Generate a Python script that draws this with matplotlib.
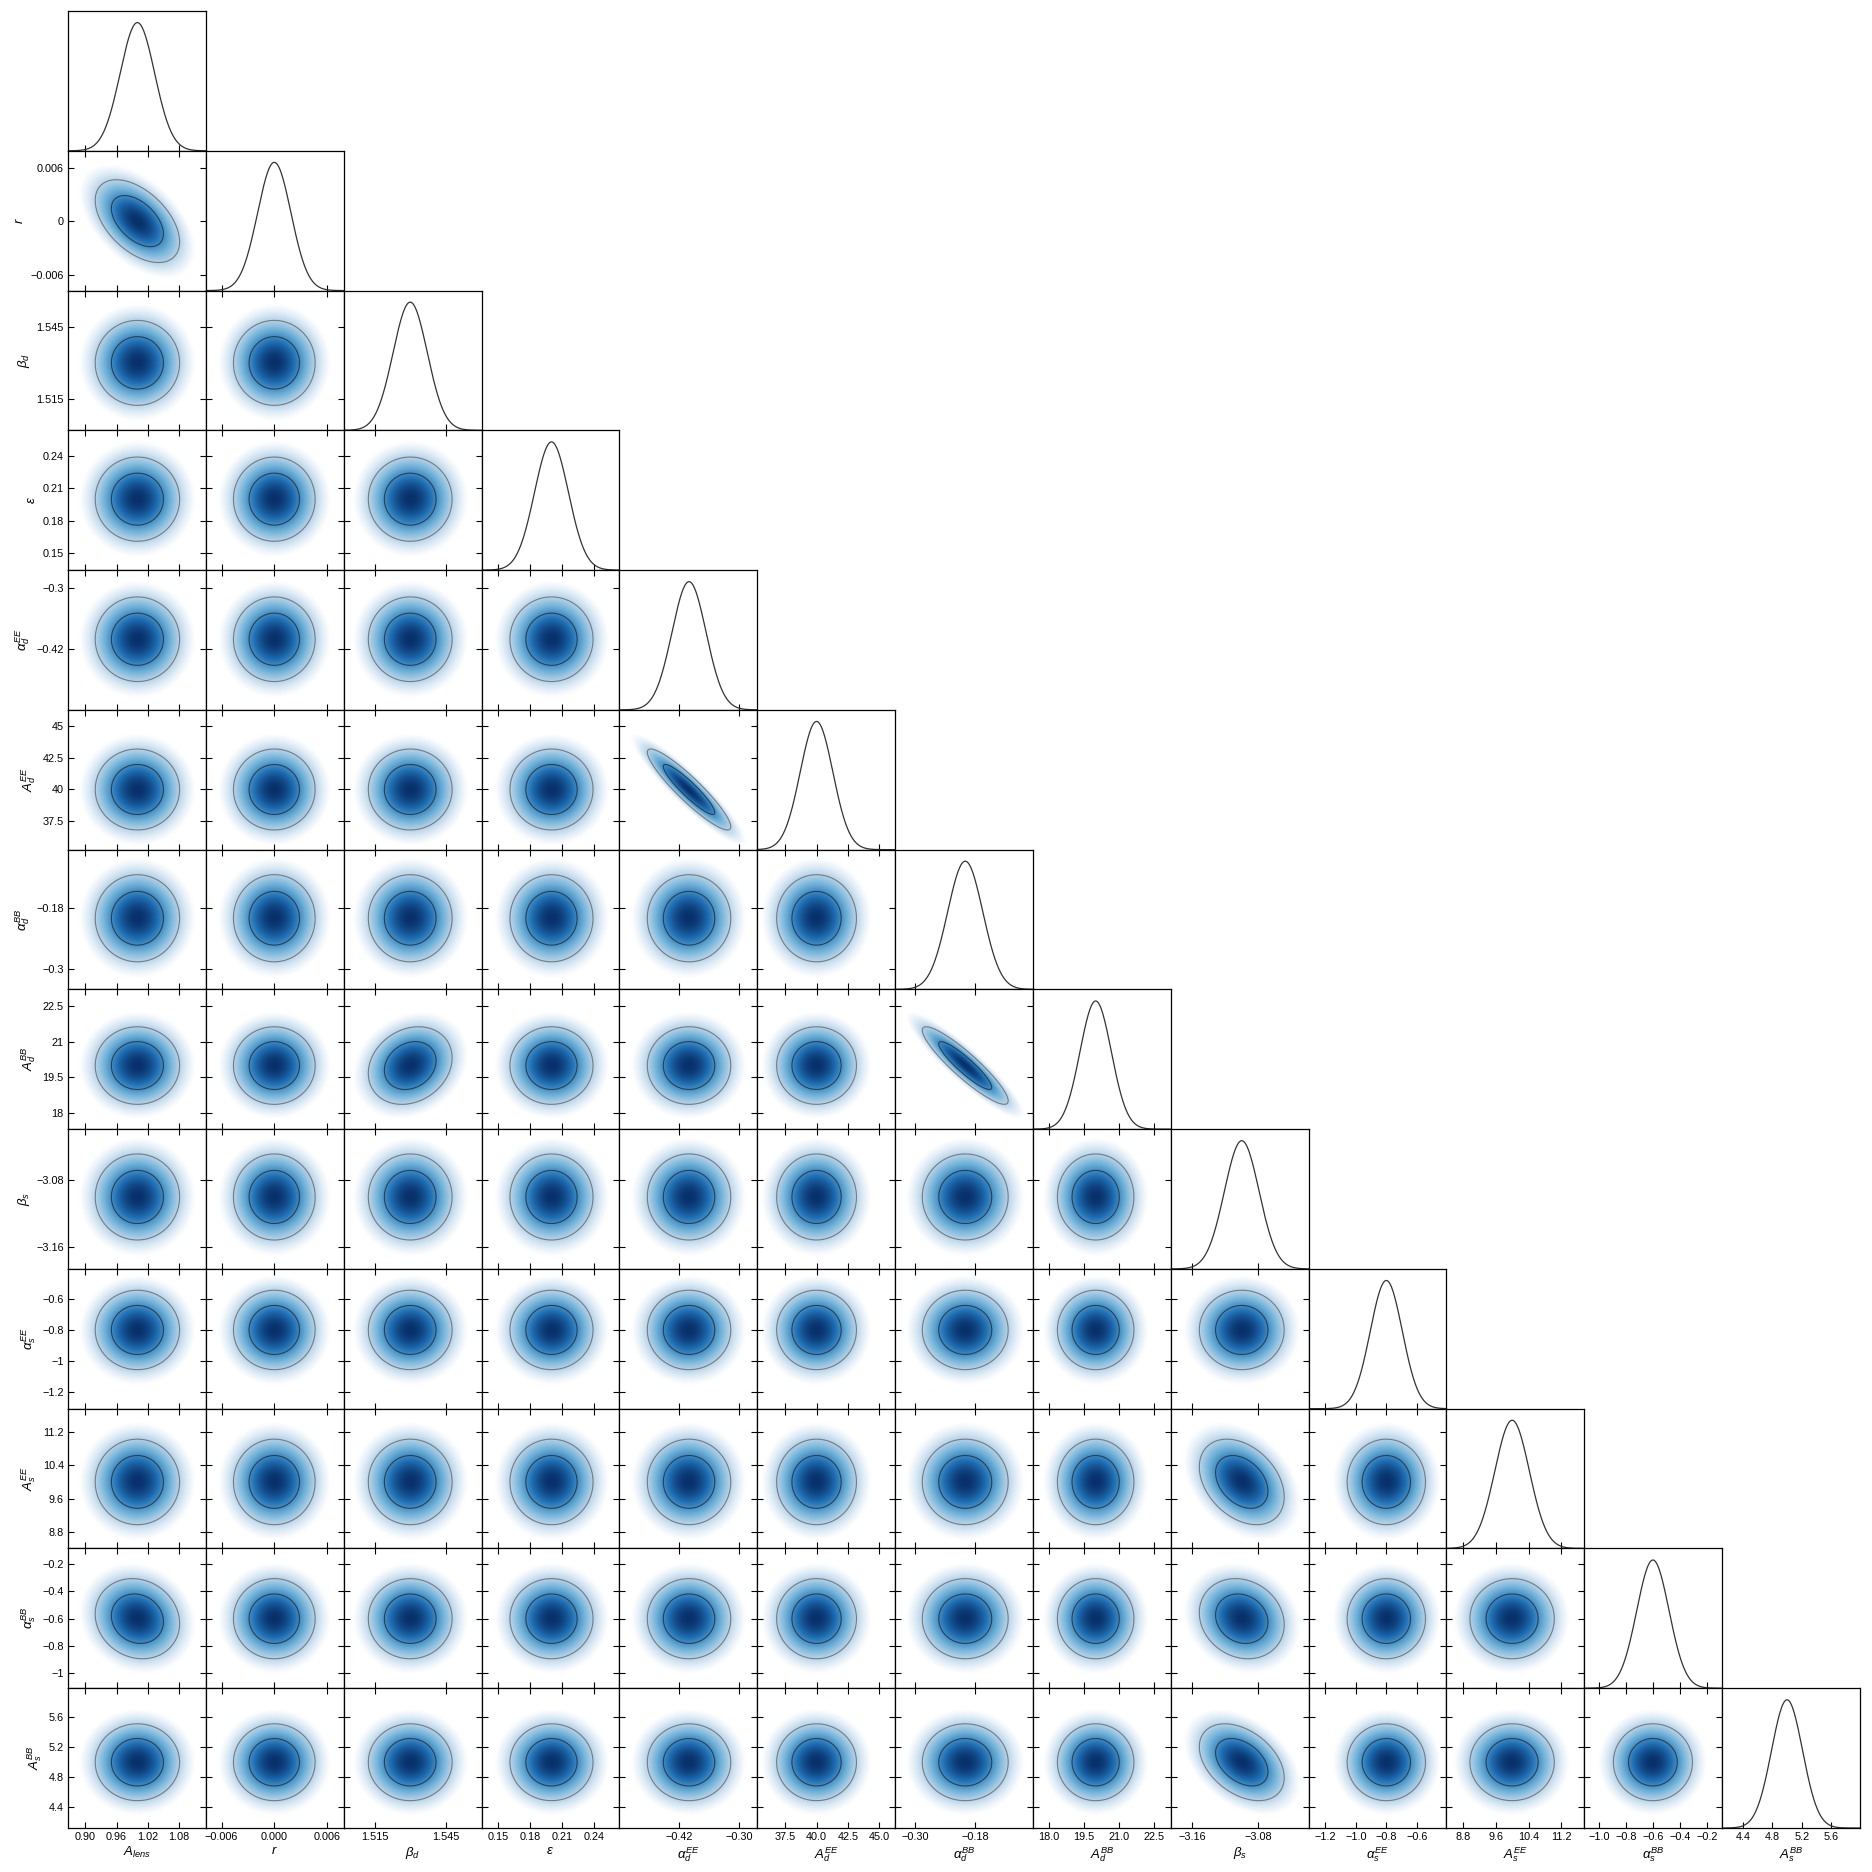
import numpy as np
import matplotlib
matplotlib.use("Agg")
import matplotlib.pyplot as plt
from matplotlib import colors
from matplotlib.ticker import FuncFormatter

plt.rcParams['font.family'] = ['Liberation Sans', 'DejaVu Sans']
plt.rcParams['mathtext.fontset'] = 'custom'
plt.rcParams['mathtext.rm'] = 'Liberation Sans'
plt.rcParams['mathtext.it'] = 'Liberation Sans:italic'
plt.rcParams['axes.unicode_minus'] = True

# parameters of the chain summary
labels = [r'$A_{lens}$', r'$r$', r'$\beta_d$', r'$\varepsilon$', r'$\alpha_d^{EE}$', r'$A_d^{EE}$',
          r'$\alpha_d^{BB}$', r'$A_d^{BB}$', r'$\beta_s$', r'$\alpha_s^{EE}$', r'$A_s^{EE}$',
          r'$\alpha_s^{BB}$', r'$A_s^{BB}$']
means = [1.0, 0.0, 1.530, 0.200, -0.40, 40.0, -0.20, 20.0, -3.10, -0.80, 10.0, -0.60, 5.0]
sigmas = [0.033, 0.0019, 0.0072, 0.016, 0.034, 1.3, 0.035, 0.67, 0.021, 0.105, 0.42, 0.12, 0.21]
lower = [0.867, -0.0078, 1.502, 0.134, -0.539, 35.27, -0.340, 17.31, -3.186, -1.31, 8.40, -1.11, 4.12]
upper = [1.131, 0.0079, 1.560, 0.264, -0.264, 46.26, -0.065, 23.22, -3.019, -0.405, 11.76, -0.085, 5.99]
ticks = [
    [0.90, 0.96, 1.02, 1.08],
    [-0.006, 0.0, 0.006],
    [1.515, 1.545],
    [0.15, 0.18, 0.21, 0.24],
    [-0.42, -0.30],
    [37.5, 40.0, 42.5, 45.0],
    [-0.30, -0.18],
    [18.0, 19.5, 21.0, 22.5],
    [-3.16, -3.08],
    [-1.2, -1.0, -0.8, -0.6],
    [8.8, 9.6, 10.4, 11.2],
    [-1.0, -0.8, -0.6, -0.4, -0.2],
    [4.4, 4.8, 5.2, 5.6],
]
# correlation coefficients between parameter pairs (others ~0)
corr_pairs = [(0, 1), (4, 5), (6, 7), (2, 7), (8, 10), (8, 12), (8, 11), (0, 11)]
corr_values = [-0.5, -0.92, -0.91, 0.2, -0.35, -0.4, -0.15, -0.12]

n = len(labels)
rho = np.eye(n)
for (a, b), v in zip(corr_pairs, corr_values):
    rho[a, b] = rho[b, a] = v

# Blues that fades to pure white in the tails
blues = plt.get_cmap('Blues')
shade = colors.LinearSegmentedColormap.from_list(
    'shade', [(0.0, 'white'), (0.1, 'white'), (0.28, blues(0.28)), (0.5, blues(0.5)),
              (0.75, blues(0.75)), (1.0, blues(1.0))])


def gformat(v, pos):
    return ('%g' % v).replace('-', '\u2212')


fig, axes = plt.subplots(n, n, figsize=(18.72, 18.72), dpi=100)
fig.subplots_adjust(left=0.0363, right=0.9936, bottom=0.0235, top=0.9941, wspace=0, hspace=0)

tick_kw = dict(direction='in', length=4, width=0.8, labelsize=7.8, pad=3)

for i in range(n):
    for j in range(n):
        ax = axes[i, j]
        if j > i:
            ax.set_visible(False)
            continue
        for s in ax.spines.values():
            s.set_linewidth(0.9)
        if i == j:
            x = np.linspace(lower[j], upper[j], 400)
            p = np.exp(-0.5 * ((x - means[j]) / sigmas[j]) ** 2)
            ax.plot(x, p, color='#333333', lw=0.9)
            ax.set_xlim(lower[j], upper[j])
            ax.set_ylim(0, 1.09)
            ax.set_yticks([])
            ax.set_xticks(ticks[j])
            ax.tick_params(axis='x', bottom=True, top=False, **tick_kw)
        else:
            mx, my = means[j], means[i]
            sx, sy = sigmas[j], sigmas[i]
            c = rho[i, j]
            gx = np.linspace(lower[j], upper[j], 220)
            gy = np.linspace(lower[i], upper[i], 220)
            X, Y = np.meshgrid(gx, gy)
            u = (X - mx) / sx
            v = (Y - my) / sy
            q = (u * u - 2 * c * u * v + v * v) / (1 - c * c)
            dens = np.exp(-0.5 * q)
            ax.imshow(dens, extent=(lower[j], upper[j], lower[i], upper[i]), origin='lower',
                      aspect='auto', cmap=shade, norm=colors.PowerNorm(gamma=0.4, vmin=0, vmax=1),
                      interpolation='bilinear')
            flat = np.sort(dens.ravel())[::-1]
            cum = np.cumsum(flat)
            cum /= cum[-1]
            l68 = flat[np.searchsorted(cum, 0.68)]
            l95 = flat[np.searchsorted(cum, 0.95)]
            ax.contour(X, Y, dens, levels=[l95, l68], colors=['#7a7a7a', '#2c3e50'], linewidths=0.8)
            ax.set_xlim(lower[j], upper[j])
            ax.set_ylim(lower[i], upper[i])
            ax.set_xticks(ticks[j])
            ax.set_yticks(ticks[i])
            ax.tick_params(axis='both', top=True, right=True, **tick_kw)
            ax.yaxis.set_major_formatter(FuncFormatter(gformat))
        if i == n - 1:
            ax.set_xlabel(labels[j], fontsize=9.5, labelpad=2)
        else:
            ax.tick_params(axis='x', labelbottom=False)
        if j == 0 and i > 0:
            ax.set_ylabel(labels[i], fontsize=9.5, labelpad=3)
        else:
            ax.tick_params(axis='y', labelleft=False)

fig.savefig('out.png', dpi=100)
